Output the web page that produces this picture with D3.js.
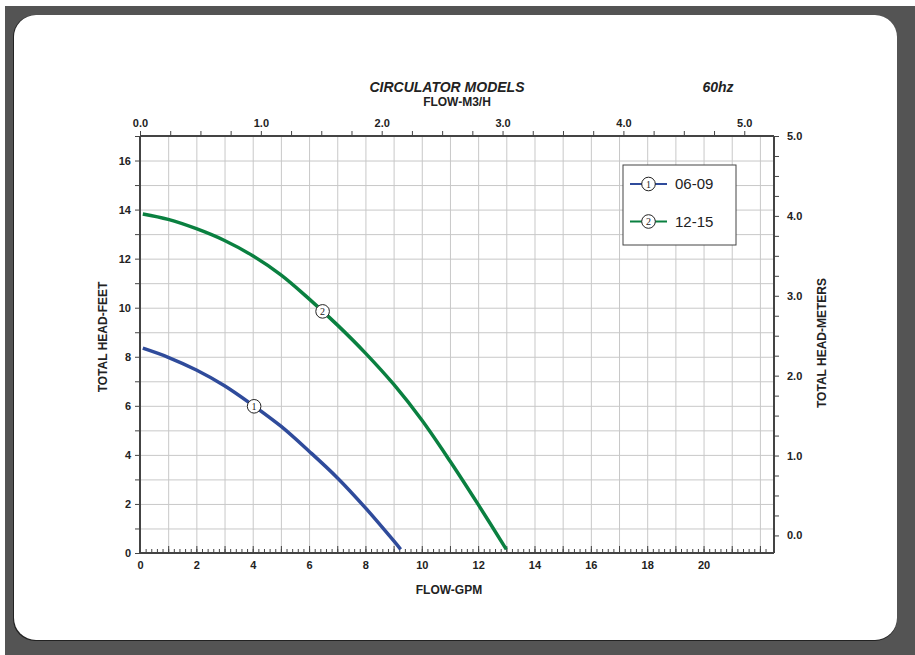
<!DOCTYPE html>
<html>
<head>
<meta charset="utf-8">
<script src="https://cdn.jsdelivr.net/npm/d3@7"></script>
<style>
  body { margin: 0; background: #fff; }
  text { font-family: "Liberation Sans", Arial, sans-serif; fill: #222; }
  .tick text { font-size: 11px; font-weight: bold; }
  .grid line { stroke: #c8c8c8; stroke-width: 1; }
  .grid .domain { display: none; }
  .axis .domain { stroke: #444; stroke-width: 2; }
  .axis line { stroke: #444; }
</style>
</head>
<body>
<div id="chart"></div>
<script>
// series: flow in GPM, head in feet
var gpm0609  = [0.1, 1, 2, 3, 4, 5, 6, 7, 8, 9, 9.25];
var head0609 = [8.35, 7.98, 7.46, 6.82, 6.03, 5.17, 4.15, 3.07, 1.84, 0.5, 0.15];
var gpm1215  = [0.1, 1, 2, 3, 4, 5, 6, 7, 8, 9, 10, 11, 12, 13];
var head1215 = [13.82, 13.6, 13.22, 12.74, 12.12, 11.34, 10.36, 9.3, 8.15, 6.88, 5.42, 3.75, 1.98, 0.15];
var seriesNames = ["06-09", "12-15"];
var seriesColors = ["#2f4b9b", "#0a8040"];
var markerGpm = [4.05, 6.48];
var markerHead = [5.98, 9.85];

var gpmTicks = [0, 2, 4, 6, 8, 10, 12, 14, 16, 18, 20];
var feetTicks = [0, 2, 4, 6, 8, 10, 12, 14, 16];
var m3hTicks = [0, 1, 2, 3, 4, 5];
var meterTicks = [0, 1, 2, 3, 4, 5];

var W = 915, H = 655;
var svg = d3.select("#chart").append("svg").attr("width", W).attr("height", H);

// frame + card
svg.append("rect").attr("x", 5).attr("y", 6).attr("width", W - 5).attr("height", H - 6).attr("fill", "#545454");
svg.append("rect").attr("x", 13).attr("y", 15).attr("width", 884).attr("height", 626)
    .attr("rx", 22).attr("fill", "#222");
svg.append("rect").attr("x", 14).attr("y", 15).attr("width", 883).attr("height", 625)
    .attr("rx", 22).attr("fill", "#fff");

var pL = 140, pR = 774, pT = 136, pB = 553;

var x = d3.scaleLinear().domain([0, 22.5]).range([pL, pR]);
var y = d3.scaleLinear().domain([0, 17]).range([pB, pT]);
var xTop = d3.scaleLinear().domain([0, (pR - pL) / 120.85]).range([pL, pR]);
var yRight = d3.scaleLinear().domain([-0.22, 5.0]).range([pB, pT]);

// grid
svg.append("g").attr("class", "grid")
    .attr("transform", "translate(0," + pB + ")")
    .call(d3.axisBottom(x).tickValues(d3.range(1, 23)).tickSize(-(pB - pT)).tickFormat(""));
svg.append("g").attr("class", "grid")
    .attr("transform", "translate(" + pL + ",0)")
    .call(d3.axisLeft(y).tickValues(d3.range(1, 17)).tickSize(-(pR - pL)).tickFormat(""));

// minor bottom ticks (inside)
svg.append("g").attr("class", "axis")
    .attr("transform", "translate(0," + pB + ")")
    .call(d3.axisTop(x).tickValues(d3.range(0, 112).map(function(i) { return i * 0.2; })).tickSize(4).tickFormat(""))
    .select(".domain").remove();
svg.append("g").attr("class", "axis")
    .attr("transform", "translate(0," + pB + ")")
    .call(d3.axisTop(x).tickValues(d3.range(0, 23)).tickSize(7).tickFormat(""))
    .select(".domain").remove();

// bottom labels
var xb = svg.append("g").attr("class", "axis")
    .attr("transform", "translate(0," + pB + ")")
    .call(d3.axisBottom(x).tickValues(gpmTicks).tickSize(0).tickPadding(8).tickFormat(d3.format("d")));
xb.select(".domain").attr("d", "M" + pL + ",0H" + pR);

// left axis
var yl = svg.append("g").attr("class", "axis")
    .attr("transform", "translate(" + pL + ",0)")
    .call(d3.axisLeft(y).tickValues(d3.range(0, 18)).tickSize(5).tickPadding(4)
        .tickFormat(function(d) { return feetTicks.indexOf(d) >= 0 ? d : ""; }));
yl.select(".domain").attr("d", "M0," + pB + "V" + pT);

// top axis
var xt = svg.append("g").attr("class", "axis")
    .attr("transform", "translate(0," + pT + ")")
    .call(d3.axisTop(xTop).tickValues(d3.range(0, 21).map(function(i) { return i * 0.25; })).tickSize(5).tickPadding(4)
        .tickFormat(function(d) { return m3hTicks.indexOf(d) >= 0 ? d3.format(".1f")(d) : ""; }));
xt.select(".domain").attr("d", "M" + pL + ",0H" + pR);

// right axis
var yr = svg.append("g").attr("class", "axis")
    .attr("transform", "translate(" + pR + ",0)")
    .call(d3.axisRight(yRight).tickValues(d3.range(0, 21).map(function(i) { return i * 0.25; })).tickSize(5).tickPadding(8)
        .tickFormat(function(d) { return meterTicks.indexOf(d) >= 0 ? d3.format(".1f")(d) : ""; }));
yr.select(".domain").attr("d", "M0," + pB + "V" + pT);

// curves
var line = d3.line()
    .x(function(d) { return x(d[0]); })
    .y(function(d) { return y(d[1]); })
    .curve(d3.curveCatmullRom.alpha(0.5));

var series = [d3.zip(gpm0609, head0609), d3.zip(gpm1215, head1215)];
series.forEach(function(s, i) {
    svg.append("path")
        .datum(s)
        .attr("fill", "none")
        .attr("stroke", seriesColors[i])
        .attr("stroke-width", 3.5)
        .attr("d", line);
});

function marker(g, cx, cy, label) {
    g.append("circle").attr("cx", cx).attr("cy", cy).attr("r", 6.8)
        .attr("fill", "#fff").attr("stroke", "#222").attr("stroke-width", 1);
    g.append("text").attr("x", cx).attr("y", cy + 3.5).attr("text-anchor", "middle")
        .style("font-family", "'Liberation Serif', serif").style("font-size", "10px").text(label);
}

markerGpm.forEach(function(g, i) {
    marker(svg, x(g), y(markerHead[i]), i + 1);
});

// legend
var lg = svg.append("g");
lg.append("rect").attr("x", 623).attr("y", 165).attr("width", 113).attr("height", 80)
    .attr("fill", "#fff").attr("stroke", "#444").attr("stroke-width", 1);
seriesNames.forEach(function(n, i) {
    var ly = 184 + i * 37.5;
    lg.append("line").attr("x1", 630).attr("x2", 667).attr("y1", ly).attr("y2", ly)
        .attr("stroke", seriesColors[i]).attr("stroke-width", 1.8);
    marker(lg, 648.5, ly, i + 1);
    lg.append("text").attr("x", 675).attr("y", ly + 5).style("font-size", "15px").text(n);
});

// titles
svg.append("text").attr("x", 447).attr("y", 92).attr("text-anchor", "middle")
    .style("font-size", "14px").style("font-weight", "bold").style("font-style", "italic")
    .text("CIRCULATOR MODELS");
svg.append("text").attr("x", 718).attr("y", 92).attr("text-anchor", "middle")
    .style("font-size", "14px").style("font-weight", "bold").style("font-style", "italic")
    .text("60hz");
svg.append("text").attr("x", 457).attr("y", 106).attr("text-anchor", "middle")
    .style("font-size", "12px").style("font-weight", "bold").text("FLOW-M3/H");
svg.append("text").attr("x", 449).attr("y", 594).attr("text-anchor", "middle")
    .style("font-size", "12px").style("font-weight", "bold").text("FLOW-GPM");
svg.append("text").attr("transform", "translate(107,337) rotate(-90)").attr("text-anchor", "middle")
    .style("font-size", "12px").style("font-weight", "bold").text("TOTAL HEAD-FEET");
svg.append("text").attr("transform", "translate(826,343) rotate(-90)").attr("text-anchor", "middle")
    .style("font-size", "12px").style("font-weight", "bold").text("TOTAL HEAD-METERS");
</script>
</body>
</html>
